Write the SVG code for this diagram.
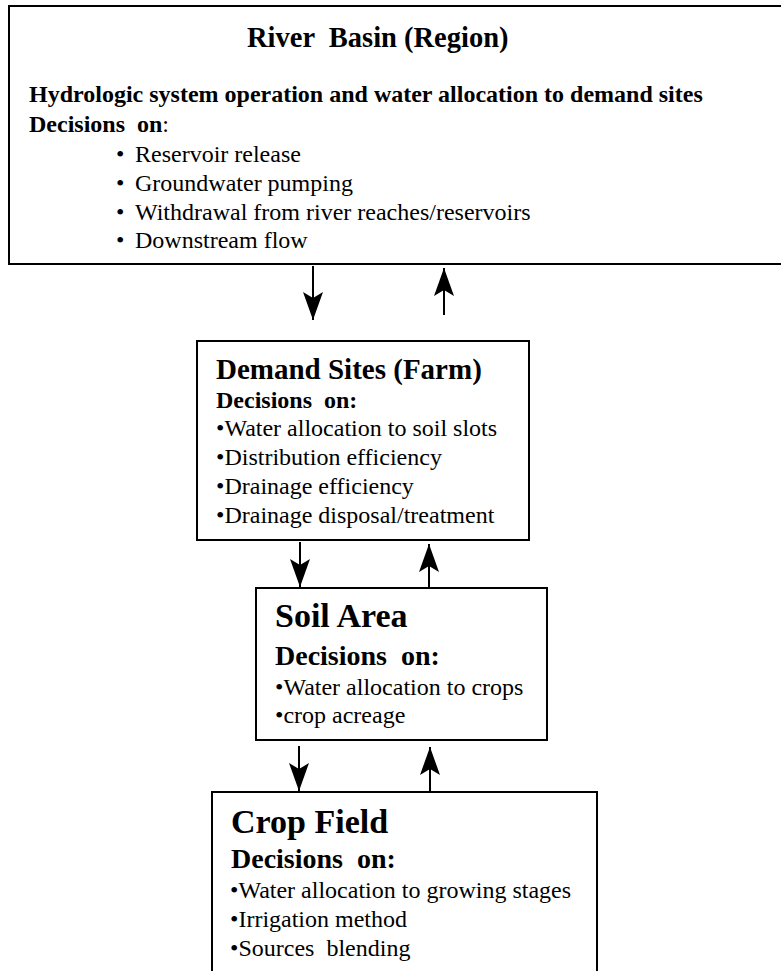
<svg xmlns="http://www.w3.org/2000/svg" width="781" height="971" viewBox="0 0 781 971">
<style>
.box{fill:#fff;stroke:#000;stroke-width:2}
.t{font-family:"Liberation Serif","Times New Roman",serif;fill:#000}
.b{font-weight:bold}
.edge{stroke:#000;stroke-width:2;fill:none;marker-end:url(#ah)}
</style>
<defs>
<marker id="ah" viewBox="0 0 28 20" markerWidth="28" markerHeight="20" refX="28" refY="10" orient="auto" markerUnits="userSpaceOnUse">
<path d="M0,0 L28,10 L0,20 L6,10 Z" fill="#000"/>
</marker>
</defs>
<rect width="781" height="971" fill="#fff"/>
<g id="river-basin">
<rect class="box" x="9" y="6" width="790" height="258"/>
<text class="t b" x="247" y="47" font-size="28.5" xml:space="preserve">River  Basin (Region)</text>
<text class="t b" x="29" y="102" font-size="24">Hydrologic system operation and water allocation to demand sites</text>
<text class="t" x="29" y="132" font-size="24" xml:space="preserve"><tspan font-weight="bold">Decisions  on</tspan>:</text>
<text class="t" x="116" y="162" font-size="24">•</text>
<text class="t" x="135" y="162" font-size="24">Reservoir release</text>
<text class="t" x="116" y="191" font-size="24">•</text>
<text class="t" x="135" y="191" font-size="24">Groundwater pumping</text>
<text class="t" x="116" y="220" font-size="24">•</text>
<text class="t" x="135" y="220" font-size="24">Withdrawal from river reaches/reservoirs</text>
<text class="t" x="116" y="248" font-size="24">•</text>
<text class="t" x="135" y="248" font-size="24">Downstream flow</text>
</g>
<g id="demand-sites">
<rect class="box" x="197" y="341" width="332" height="199"/>
<text class="t b" x="216" y="379" font-size="29">Demand Sites (Farm)</text>
<text class="t b" x="216" y="408" font-size="24" xml:space="preserve">Decisions  on:</text>
<text class="t" x="216" y="436" font-size="24">•Water allocation to soil slots</text>
<text class="t" x="216" y="465" font-size="24">•Distribution efficiency</text>
<text class="t" x="216" y="494" font-size="24">•Drainage efficiency</text>
<text class="t" x="216" y="523" font-size="24">•Drainage disposal/treatment</text>
</g>
<g id="soil-area">
<rect class="box" x="256" y="588" width="291" height="152"/>
<text class="t b" x="275" y="627" font-size="34">Soil Area</text>
<text class="t b" x="275" y="665" font-size="28" xml:space="preserve">Decisions  on:</text>
<text class="t" x="275" y="695" font-size="24">•Water allocation to crops</text>
<text class="t" x="275" y="723" font-size="24">•crop acreage</text>
</g>
<g id="crop-field">
<rect class="box" x="212" y="792" width="385" height="200"/>
<text class="t b" x="231" y="833" font-size="34">Crop Field</text>
<text class="t b" x="231" y="868" font-size="28" xml:space="preserve">Decisions  on:</text>
<text class="t" x="230" y="898" font-size="24">•Water allocation to growing stages</text>
<text class="t" x="230" y="927" font-size="24">•Irrigation method</text>
<text class="t" x="230" y="956" font-size="24" xml:space="preserve">•Sources  blending</text>
</g>
<g id="connectors">
<path class="edge" d="M313,266 L313,320"/>
<path class="edge" d="M444,315 L444,268"/>
<path class="edge" d="M300,542 L300,587"/>
<path class="edge" d="M429,587 L429,544"/>
<path class="edge" d="M299,746 L299,791"/>
<path class="edge" d="M430,791 L430,747"/>
</g>
</svg>
